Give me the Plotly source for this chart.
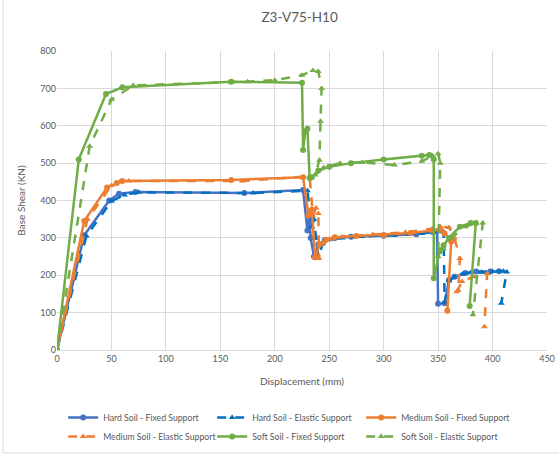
import plotly.graph_objects as go

# Pushover curves: base shear vs. roof displacement for model Z3-V75-H10
hard_fixed_x = [0, 25, 48, 57, 72, 172, 226, 230, 232, 233, 236, 240, 246, 255, 270, 300, 330, 345, 349, 350, 356, 360, 365, 375, 385, 398, 406]
hard_fixed_y = [0, 307, 400, 418, 423, 420, 428, 320, 345, 300, 250, 282, 294, 300, 303, 306, 310, 316, 318, 124, 125, 187, 196, 206, 210, 210, 211]

hard_elastic_x = [0, 27, 50, 62, 75, 180, 230, 234, 236, 238, 240, 244, 250, 262, 280, 310, 335, 350, 355, 356, 360, 365, 372, 380, 390, 400, 410, 413, 408]
hard_elastic_y = [0, 305, 398, 415, 422, 420, 426, 330, 350, 300, 246, 285, 295, 300, 304, 307, 312, 318, 316, 128, 185, 195, 203, 207, 208, 210, 211, 209, 125]

medium_fixed_x = [0, 25, 46, 55, 60, 160, 226, 231, 234, 237, 241, 247, 255, 275, 300, 325, 345, 352, 356, 362, 358.5]
medium_fixed_y = [0, 345, 435, 447, 452, 455, 462, 360, 375, 248, 282, 295, 302, 305, 308, 313, 320, 322, 312, 290, 105]

medium_elastic_x = [0, 28, 50, 58, 66, 170, 232, 235, 238, 240, 240.5, 243, 250, 262, 290, 320, 345, 352, 360, 365, 370, 368.5, 367, 372, 382, 395, 392.5]
medium_elastic_y = [0, 350, 440, 450, 452, 452, 465, 360, 380, 365, 245, 282, 296, 303, 309, 315, 325, 330, 328, 300, 245, 160, 156, 183, 196, 205, 62]

soft_fixed_x = [0, 20, 45, 60, 160, 225, 226, 228, 230, 232, 234, 240, 250, 270, 300, 335, 342, 346, 346, 351.7, 355, 360, 370, 380, 384.6, 379]
soft_fixed_y = [0, 510, 685, 703, 718, 715, 535, 585, 592, 460, 462, 480, 490, 500, 510, 520, 522, 510, 192, 267, 280, 300, 330, 340, 340, 118]

soft_elastic_x = [0, 30, 50, 70, 175, 200, 225, 235, 240, 243, 242, 241, 237, 245, 260, 280, 310, 335, 345, 350, 352, 350, 355, 362, 375, 385, 391, 382]
soft_elastic_y = [0, 545, 670, 708, 718, 722, 735, 748, 745, 700, 612, 508, 468, 488, 500, 502, 495, 505, 520, 525, 500, 250, 270, 300, 330, 340, 340, 94]

series = [
    ("Hard Soil - Fixed Support", hard_fixed_x, hard_fixed_y, "#4472C4", "solid", "circle"),
    ("Hard Soil - Elastic Support", hard_elastic_x, hard_elastic_y, "#0070C0", "dash", "triangle-up"),
    ("Medium Soil - Fixed Support", medium_fixed_x, medium_fixed_y, "#ED7D31", "solid", "circle"),
    ("Medium Soil - Elastic Support", medium_elastic_x, medium_elastic_y, "#ED7D31", "dash", "triangle-up"),
    ("Soft Soil - Fixed Support", soft_fixed_x, soft_fixed_y, "#70AD47", "solid", "circle"),
    ("Soft Soil - Elastic Support", soft_elastic_x, soft_elastic_y, "#70AD47", "dash", "triangle-up"),
]

FONT = "Lato, sans-serif"
GREY = "#595959"

fig = go.Figure()
for name, xs, ys, color, dash, symbol in series:
    fig.add_trace(go.Scatter(
        x=xs, y=ys, name=name, mode="lines+markers",
        line=dict(color=color, width=2.5, dash=dash),
        marker=dict(color=color, size=6, symbol=symbol),
    ))

fig.update_layout(
    width=559, height=458,
    margin=dict(l=57, r=12, t=51, b=108, autoexpand=False),
    paper_bgcolor="white", plot_bgcolor="white",
    font=dict(family=FONT, color=GREY, size=10),
    title=dict(text="Z3-V75-H10", x=0.536, xanchor="center", y=0.962, yanchor="middle",
               font=dict(family=FONT, size=13.5, color=GREY)),
    xaxis=dict(range=[0, 450], dtick=50, showgrid=True, gridcolor="#D9D9D9", gridwidth=1,
               zeroline=False, showline=True, linecolor="#D9D9D9", ticks="",
               title=dict(text="Displacement (mm)", font=dict(size=10, color=GREY), standoff=15),
               tickfont=dict(size=9, color=GREY)),
    yaxis=dict(range=[0, 800], dtick=100, showgrid=True, gridcolor="#D9D9D9", gridwidth=1,
               zeroline=False, showline=False, ticks="",
               title=dict(text="Base Shear (KN)", font=dict(size=10, color=GREY), standoff=12),
               tickfont=dict(size=9, color=GREY)),
    legend=dict(orientation="h", xref="container", x=0.113, xanchor="left",
                yref="container", y=0.12, yanchor="top",
                entrywidth=104, font=dict(size=8.7, color=GREY),
                bgcolor="rgba(0,0,0,0)", traceorder="normal"),
    showlegend=True,
)

# chart frame
fig.add_shape(type="rect", xref="paper", yref="paper",
              x0=-0.110, x1=1.035, y0=-0.3445, y1=1.18,
              line=dict(color="#D9D9D9", width=1), fillcolor="rgba(0,0,0,0)", layer="below")

fig.write_html("out.html")
